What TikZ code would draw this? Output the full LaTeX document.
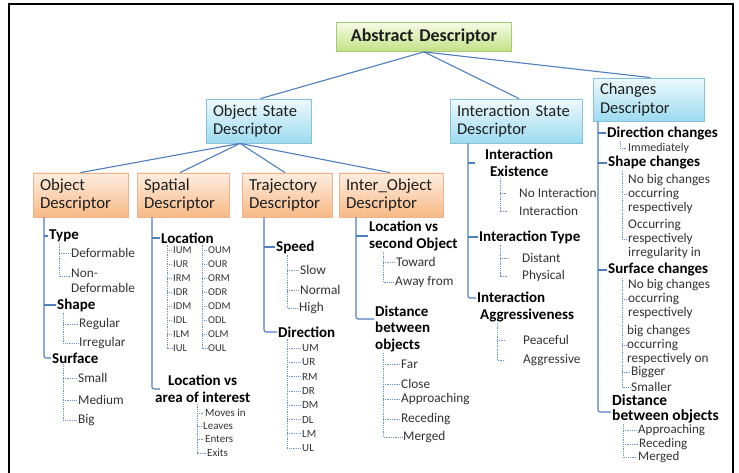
\documentclass[tikz,border=0pt]{standalone}
\usepackage{fontspec}
\setmainfont{Carlito}
\usetikzlibrary{calc,shadings}
\definecolor{lnblue}{HTML}{4F7FBE}
\definecolor{dotblue}{HTML}{6F93CC}
\definecolor{txt}{HTML}{1E1E1E}
\definecolor{lftxt}{HTML}{333333}
\definecolor{grnT}{HTML}{F6FBE4}
\definecolor{grnB}{HTML}{C2E186}
\definecolor{grnD}{HTML}{A9C97A}
\definecolor{bluT}{HTML}{EEF9FD}
\definecolor{bluB}{HTML}{9CDBF0}
\definecolor{bluD}{HTML}{86C3DA}
\definecolor{orT}{HTML}{FDEDE0}
\definecolor{orB}{HTML}{F8BA86}
\definecolor{orD}{HTML}{EFB28A}
\tikzset{
  box/.style={draw, line width=0.8pt, inner xsep=6pt, inner ysep=2pt, align=left, text=txt,
    font=\fontsize{16.5}{18.5}\selectfont},
  gbox/.style={box, draw=grnD, top color=grnT, bottom color=grnB},
  bbox/.style={box, draw=bluD, top color=bluT, bottom color=bluB, inner xsep=7pt},
  obox/.style={box, draw=orD, top color=orT, bottom color=orB, inner xsep=7pt,
    font=\fontsize{16.8}{18}\selectfont},
  conn/.style={draw=lnblue, line width=1.1pt},
  trunk/.style={conn, rounded corners=2pt},
  dl/.style={draw=dotblue, line width=0.7pt, dash pattern=on 0.9pt off 0.9pt},
  hd/.style={anchor=west, inner sep=1pt, align=left, text=black,
    font=\bfseries\fontsize{15}{16.5}\selectfont},
  lf/.style={anchor=west, inner sep=1pt, align=left, text=lftxt,
    font=\fontsize{13.3}{15}\selectfont},
  lfc/.style={lf, font=\fontsize{13.3}{14.3}\selectfont},
  sm/.style={anchor=west, inner sep=1pt, text=lftxt, font=\fontsize{10.5}{12}\selectfont},
}
\begin{document}
\begin{tikzpicture}[x=1pt,y=-1pt]
\useasboundingbox (0,0) rectangle (739,473);
\fill[white] (0,0) rectangle (739,473);
\draw[line width=2.5pt, black] (9,473) -- (9,4) -- (733,4) -- (733,473);

% ---------- boxes ----------
\node[gbox, text width=163pt, align=center, minimum height=29pt,
  font=\bfseries\fontsize{18}{20}\selectfont] (abs) at (424,37) {Abstract Descriptor};
\node[bbox, text width=91pt, minimum height=44pt] (os) at (258.5,121) {Object State\\Descriptor};
\node[bbox, text width=118pt, minimum height=44pt] (is) at (516,121) {Interaction State\\Descriptor};
\node[bbox, text width=97pt, minimum height=43pt] (cd) at (648.5,99.5) {Changes\\Descriptor};
\node[obox, text width=81pt, minimum height=44pt] (odb) at (80.5,195) {Object\\Descriptor};
\node[obox, text width=78pt, minimum height=44pt] (sdb) at (183,195) {Spatial\\Descriptor};
\node[obox, text width=76pt, minimum height=44pt] (tdb) at (287,195) {Trajectory\\Descriptor};
\node[obox, text width=90pt, minimum height=44pt] (iob) at (391,195) {Inter\_Object\\Descriptor};

% ---------- top connectors ----------
\draw[conn] (abs.south) -- ([xshift=2pt]os.north);
\draw[conn] (abs.south) -- ([xshift=3pt]is.north);
\draw[conn] (abs.south) -- ([xshift=2pt]cd.north);
\coordinate (osb) at ([xshift=-18.5pt]os.south);
\draw[conn] (osb) -- (odb.north);
\draw[conn] (osb) -- ([xshift=-3pt]sdb.north);
\draw[conn] (osb) -- ([xshift=-2pt]tdb.north);
\draw[conn] (osb) -- ([xshift=-1pt]iob.north);

% ---------- Object Descriptor ----------
\node[hd] (odType) at (48,236) {Type};
\node[lf] (odDef) at (70,253) {Deformable};
\node[lf] (odND) at (70,280.5) {Non-\\Deformable};
\node[hd] (odShape) at (56,305) {Shape};
\node[lf] (odReg) at (78,324) {Regular};
\node[lf] (odIrr) at (78,343) {Irregular};
\node[hd] (odSurf) at (51,358) {Surface};
\node[lf] (odSm) at (77,378) {Small};
\node[lf] (odMed) at (77,400) {Medium};
\node[lf] (odBig) at (77,420) {Big};
\coordinate (tOD) at (odb.south -| 44,0);
\draw[trunk] (tOD) |- (odSurf.west);
\draw[conn] (tOD |- odType.west) -- (odType.west);
\draw[conn] (tOD |- odShape.west) -- (odShape.west);
\draw[dl] (59,0 |- odType.south) |- ([yshift=4.5pt]odND.west);
\draw[dl] (59,0 |- odDef.west) -- (odDef.west);
\draw[dl] (63,0 |- odShape.south) |- (odIrr.west);
\draw[dl] (63,0 |- odReg.west) -- (odReg.west);
\draw[dl] (63,0 |- odSurf.south) |- (odBig.west);
\draw[dl] (63,0 |- odSm.west) -- (odSm.west);
\draw[dl] (63,0 |- odMed.west) -- (odMed.west);

% ---------- Spatial Descriptor ----------
\node[hd] (sdLoc) at (160,238) {Location};
\foreach \n [count=\i from 0] in {IUM,IUR,IRM,IDR,IDM,IDL,ILM,IUL}
  \node[sm] (sdI\i) at (172,250+14*\i) {\n};
\foreach \n [count=\i from 0] in {OUM,OUR,ORM,ODR,ODM,ODL,OLM,OUL}
  \node[sm] (sdO\i) at (207,250+14*\i) {\n};
\draw[dl] (167,0 |- sdLoc.south) |- (sdI7.west);
\draw[dl] (202,0 |- sdLoc.south) |- (sdO7.west);
\foreach \i in {0,...,6} {
  \draw[dl] (167,0 |- sdI\i.west) -- (sdI\i.west);
  \draw[dl] (202,0 |- sdO\i.west) -- (sdO\i.west);
}
\node[hd, align=center] (sdLva) at (154,389) {Location vs\\area of interest};
\node[sm, font=\fontsize{11}{12}\selectfont] (sdMv) at (204,413) {Moves in};
\node[sm, font=\fontsize{11}{12}\selectfont] (sdLv) at (202,426) {Leaves};
\node[sm, font=\fontsize{11}{12}\selectfont] (sdEn) at (204,439) {Enters};
\node[sm, font=\fontsize{11}{12}\selectfont] (sdEx) at (206,453) {Exits};
\coordinate (tSD) at (sdb.south -| 152,0);
\draw[trunk] (tSD) |- ([xshift=6pt]sdLva.west);
\draw[conn] (tSD |- sdLoc.west) -- (sdLoc.west);
\draw[dl] (197,0 |- sdLva.south) |- (sdEx.west);
\draw[dl] (197,0 |- sdMv.west) -- (sdMv.west);
\draw[dl] (197,0 |- sdLv.west) -- (sdLv.west);
\draw[dl] (197,0 |- sdEn.west) -- (sdEn.west);

% ---------- Trajectory Descriptor ----------
\node[hd] (tdSp) at (275,247) {Speed};
\node[lf] (tdSl) at (299,270) {Slow};
\node[lf] (tdNo) at (299,290) {Normal};
\node[lf] (tdHi) at (298,308) {High};
\node[hd] (tdDir) at (277,332) {Direction};
\foreach \n [count=\i from 0] in {UM,UR,RM,DR,DM,DL,LM,UL}
  \node[sm, font=\fontsize{11}{12}\selectfont] (tdD\i) at (301,348+14.3*\i) {\n};
\coordinate (tTD) at (tdb.south -| 264,0);
\draw[trunk] (tTD) |- (tdDir.west);
\draw[conn] (tTD |- tdSp.west) -- (tdSp.west);
\draw[dl] (287,0 |- tdSp.south) |- (tdHi.west);
\draw[dl] (287,0 |- tdSl.west) -- (tdSl.west);
\draw[dl] (287,0 |- tdNo.west) -- (tdNo.west);
\draw[dl] (287,0 |- tdDir.south) |- (tdD7.west);
\foreach \i in {0,...,6}
  \draw[dl] (287,0 |- tdD\i.west) -- (tdD\i.west);

% ---------- Inter_Object Descriptor ----------
\node[hd] (ioLoc) at (368,236) {Location vs\\second Object};
\node[lf] (ioTw) at (395,262) {Toward};
\node[lf] (ioAw) at (394,282) {Away from};
\node[hd] (ioDist) at (374,329) {Distance\\between\\objects};
\node[lf] (ioFar) at (400,364) {Far};
\node[lf] (ioCl) at (400,384) {Close};
\node[lf] (ioAp) at (400,399) {Approaching};
\node[lf] (ioRe) at (400,419) {Receding};
\node[lf] (ioMe) at (402,437) {Merged};
\coordinate (tIO) at (iob.south -| 356,0);
\draw[trunk] (tIO) |- ([yshift=10pt]ioDist.west);
\draw[conn] (tIO |- ioLoc.west) -- (ioLoc.west);
\draw[dl] (383,0 |- ioLoc.south) |- (ioAw.west);
\draw[dl] (383,0 |- ioTw.west) -- (ioTw.west);
\draw[dl] (383,0 |- ioDist.south) |- (ioMe.west);
\draw[dl] (383,0 |- ioFar.west) -- (ioFar.west);
\draw[dl] (383,0 |- ioCl.west) -- (ioCl.west);
\draw[dl] (383,0 |- ioAp.west) -- (ioAp.west);
\draw[dl] (383,0 |- ioRe.west) -- (ioRe.west);

% ---------- Interaction State Descriptor ----------
\node[hd, align=center] (isEx) at (484,163) {Interaction\\Existence};
\node[lf] (isNo) at (518,193) {No Interaction};
\node[lf] (isIn) at (518,211) {Interaction};
\node[hd] (isTy) at (478,237) {Interaction Type};
\node[lf] (isDi) at (521,258) {Distant};
\node[lf] (isPh) at (521,276) {Physical};
\node[hd] (isAg) at (476,307) {Interaction\\\hspace*{3pt}Aggressiveness};
\node[lf] (isPe) at (522,340) {Peaceful};
\node[lf] (isAgr) at (522,360) {Aggressive};
\coordinate (tIS) at (is.south -| 468,0);
\draw[trunk] (tIS) |- ([yshift=9pt]isAg.west);
\draw[conn] (tIS |- isEx.west) -- ([xshift=-9pt]isEx.west);
\draw[conn] (tIS |- isTy.west) -- (isTy.west);
\draw[dl] (500,0 |- isEx.south) |- ([xshift=-11pt]isIn.west);
\draw[dl] (500,0 |- isNo.west) -- ([xshift=-11pt]isNo.west);
\draw[dl] (500,0 |- isTy.south) |- ([xshift=-13pt]isPh.west);
\draw[dl] (500,0 |- isDi.west) -- ([xshift=-13pt]isDi.west);
\draw[dl] (497,0 |- isAg.south) |- ([xshift=-17pt]isAgr.west);
\draw[dl] (497,0 |- isPe.west) -- ([xshift=-17pt]isPe.west);

% ---------- Changes Descriptor ----------
\node[hd] (cdDir) at (606,133) {Direction changes};
\node[lf, font=\fontsize{12}{14}\selectfont] (cdIm) at (627,148) {Immediately};
\node[hd] (cdSh) at (607,163) {Shape changes};
\node[lfc] (cdB1) at (627,194) {No big changes\\occurring\\respectively};
\node[lfc] (cdB2) at (627,239) {Occurring\\respectively\\irregularity in};
\node[hd] (cdSu) at (607,270) {Surface changes};
\node[lfc] (cdB3) at (627,299) {No big changes\\occurring\\respectively};
\node[lfc] (cdB4) at (626,345) {big changes\\occurring\\respectively on};
\node[lf] (cdBg) at (630,372) {Bigger};
\node[lf] (cdSm) at (630,387) {Smaller};
\node[hd, font=\bfseries\fontsize{15.5}{14.5}\selectfont] (cdDi) at (611,409) {Distance\\between objects};
\node[lf, font=\fontsize{13}{14}\selectfont] (cdAp) at (637,430) {Approaching};
\node[lf, font=\fontsize{13}{14}\selectfont] (cdRe) at (638,444) {Receding};
\node[lf, font=\fontsize{13}{14}\selectfont] (cdMe) at (637,457) {Merged};
\coordinate (tCD) at (cd.south -| 598,0);
\draw[trunk] (tCD) |- ([yshift=-3pt]cdDi.west);
\draw[conn] (tCD |- cdDir.west) -- (cdDir.west);
\draw[conn] (tCD |- cdSh.west) -- (cdSh.west);
\draw[conn] (tCD |- cdSu.west) -- (cdSu.west);
\draw[dl] (620,0 |- cdDir.south) |- (cdIm.west);
\draw[dl] (622,0 |- cdSh.south) |- (cdB2.west);
\draw[dl] (622,0 |- cdB1.west) -- (cdB1.west);
\draw[dl] (622,0 |- cdSu.south) |- (cdSm.west);
\draw[dl] (622,0 |- cdB3.west) -- (cdB3.west);
\draw[dl] (622,0 |- cdB4.west) -- (cdB4.west);
\draw[dl] (622,0 |- cdBg.west) -- (cdBg.west);
\draw[dl] (623,0 |- cdDi.south) |- (cdMe.west);
\draw[dl] (623,0 |- cdAp.west) -- (cdAp.west);
\draw[dl] (623,0 |- cdRe.west) -- (cdRe.west);
\end{tikzpicture}
\end{document}
